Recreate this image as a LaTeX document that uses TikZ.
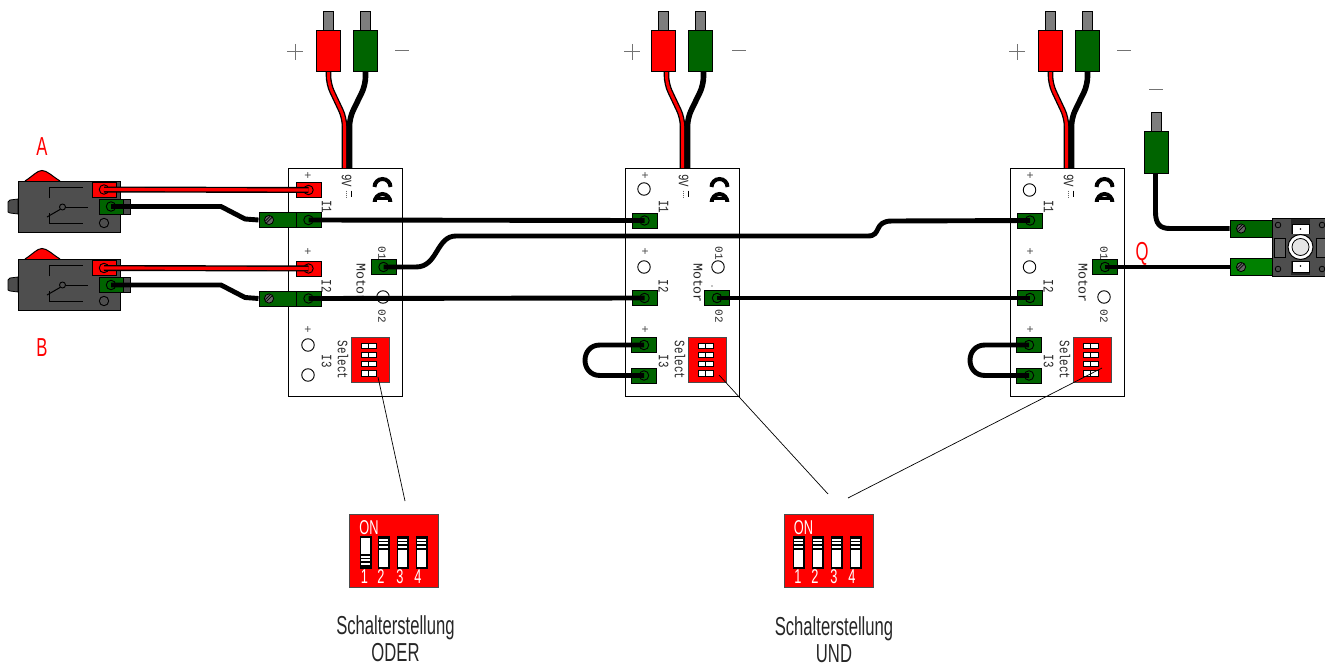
\documentclass[tikz,border=0pt]{standalone}
\usepackage{fontspec}
\setmainfont{Liberation Sans}
\newfontfamily\lblfont[FakeStretch=0.64]{Liberation Sans}
\newfontfamily\brdfont[FakeStretch=0.75]{Liberation Mono}
\newfontfamily\brdwide{Liberation Mono}
\definecolor{cGreen}{RGB}{0,100,0}
\definecolor{cGreenB}{RGB}{0,128,0}
\definecolor{cRed}{RGB}{255,0,0}
\definecolor{cBody}{RGB}{78,78,78}
\definecolor{cPin}{RGB}{125,125,125}
\tikzset{
  outl/.style={draw=black,line width=1pt},
  term/.style={outl,rectangle,minimum width=25pt,minimum height=15pt,inner sep=0pt},
  ext/.style={outl,rectangle,minimum width=37pt,minimum height=15pt,inner sep=0pt,fill=cGreen},
  hole/.style={draw=black,line width=.9pt,fill=white,circle,minimum size=12.5pt,inner sep=0pt},
  tring/.style={draw=black,line width=.9pt,circle,minimum size=9.5pt,inner sep=0pt},
  blackwire/.style={draw=black,line width=4.9pt,line join=round},
  redouter/.style={draw=black,line width=6pt,line join=round},
  redinner/.style={draw=cRed,line width=3.2pt,line join=round},
  leader/.style={draw=black,line width=.7pt},
  brd/.style={font=\brdfont\fontsize{14.4}{14.4}\selectfont,rotate=-90,inner sep=0pt,text=black!85},
  brdsmall/.style={font=\brdwide\fontsize{11}{11}\selectfont,rotate=-90,inner sep=0pt,text=black!85},
  plus/.style={font=\fontsize{12}{12}\selectfont,inner sep=0pt,text=black!70},
  lbl/.style={font=\lblfont\fontsize{26}{26}\selectfont,inner sep=0pt,text=black!85,anchor=base},
  redlbl/.style={font=\lblfont\fontsize{26}{26}\selectfont,inner sep=0pt,text=cRed,anchor=base},
  diptxt/.style={font=\lblfont\fontsize{20}{20}\selectfont,inner sep=0pt,text=white},
  sign/.style={draw=black!55,line width=1pt},
}
% terminal: name, x, y, colour
\newcommand{\Tm}[4]{\node[term,fill=#4] (#1) at (#2,#3) {}; \node[tring] at (#1.center) {};}
\newcommand{\Hl}[3]{\node[hole] (#1) at (#2,#3) {};}
\newcommand{\Screw}[2]{\fill[black!60,draw=black,line width=.8pt] (#1,#2) circle (4.6);
  \draw[black,line width=.8pt] (#1-3.6,#2+1) -- (#1+1,#2-3.6) (#1-2.6,#2+3) -- (#1+3,#2-2.6);}
% plug: x centre, top of pin, colour
\newcommand{\Plug}[3]{
  \fill[cPin,draw=black,line width=.8pt] (#1-4.7,#2) rectangle (#1+4.7,#2+20);
  \fill[#3,draw=black,line width=1pt] (#1-12,#2+20) rectangle (#1+12,#2+61);}
% board: name, x offset
\newcommand{\Board}[2]{
 \begin{scope}[shift={(#2,0)}]
  \node[outl,fill=white,rectangle,minimum width=114pt,minimum height=228pt,inner sep=0pt,anchor=north west] (#1) at (288,168) {};
  \node[brd] at (346.5,181) {9V};
  \draw[black,line width=.9pt] (351,190.5) -- (351,197);
  \draw[black!60,line width=.9pt,dash pattern=on 1pt off 1pt] (346.5,190.5) -- (346.5,197);
  \draw[black,line width=4pt] (374.5,187) arc (180:360:8 and 8);
  \begin{scope}
    \clip (370,190) rectangle (394,201.5);
    \draw[black,line width=4pt] (374.5,203) arc (180:360:8 and 9);
    \draw[black,line width=2.6pt] (376,198.5) -- (390,198.5);
  \end{scope}
  \node[plus] at (308,176) {+};
  \node[plus] at (308,252) {+};
  \node[plus] at (308,330.5) {+};
  \node[brd] at (326.5,207) {I1};
  \node[brd] at (326.5,286) {I2};
  \node[brd] at (326.5,361) {I3};
  \node[brd,font=\brdwide\fontsize{13.3}{13.3}\selectfont] at (361,283) {Motor};
  \node[brdsmall] at (382,253) {01};
  \node[brdsmall] at (382,316) {02};
  \node[brd] at (343,360) {Select};
  \fill[cRed,draw=black!70,line width=.9pt] (351,337) rectangle (389,382);
  \foreach \ry in {343,352,361.3,370.5}{
    \fill[white,draw=black,line width=1pt] (361,\ry) rectangle (376.5,\ry+5.5);
    \draw[black,line width=1.2pt] (368.5,\ry) -- (368.5,\ry+5.5);
  }
 \end{scope}}
% switch: name, y offset
\newcommand{\Switch}[2]{
 \begin{scope}[shift={(0,#2)}]
  \fill[cRed] (25,181) .. controls (33,176) and (37,170.5) .. (42,170.5) .. controls (47,170.5) and (52,176) .. (60,181) -- cycle;
  \draw[black,line width=1pt] (25,181) .. controls (33,176) and (37,170.5) .. (42,170.5) .. controls (47,170.5) and (52,176) .. (60,181);
  \fill[black!70,draw=black,line width=.8pt] (18,199) -- (10,200) -- (8,202) -- (8,212) -- (10,213) -- (18,214) -- cycle;
  \fill[black!70,draw=black,line width=.8pt] (120,199) rectangle (130,214);
  \node[outl,fill=cBody,rectangle,minimum width=102pt,minimum height=51pt,inner sep=0pt,anchor=north west] (#1) at (18,181) {};
  \draw[black,line width=1pt] (49,198) -- (49,187.5) -- (83,187.5);
  \draw[black,line width=1pt] (66,207) -- (88,207);
  \draw[black,line width=1pt] (60,209.5) -- (47,217);
  \draw[black,line width=1pt] (49,213) -- (49,223) -- (83,223);
  \draw[black,line width=.9pt] (62.5,207) circle (3);
  \draw[black,line width=.9pt] (104,223) circle (4.7);
 \end{scope}}
% big dip slider: x, y of stripes
\newcommand{\Slider}[2]{
  \fill[white,draw=black,line width=1.4pt] (#1,537) rectangle (#1+10.5,568);
  \foreach \sy in {0,3.6,7.2,10.8}{\draw[black,line width=1.7pt] (#1,#2+\sy) -- (#1+10.5,#2+\sy);}
}
\begin{document}
\begin{tikzpicture}[x=1pt,y=-1pt]
\useasboundingbox (0,0) rectangle (1325,666);

% boards
\Board{ba}{0}
\Board{bb}{337}
\Board{bc}{722}

% signs at the plugs
\foreach \ox in {0,337,722}{
  \begin{scope}[shift={(\ox,0)}]
    \draw[sign] (287,52) -- (303,52) (295,44) -- (295,60);
    \draw[sign] (395,51) -- (409,51);
  \end{scope}
}
\foreach \ox in {0,338,722}{
  \begin{scope}[shift={(\ox,0)}]
    \draw[blackwire,line width=5.6pt,rounded corners=8pt] (365.5,72) -- (365.5,85) -- (349.5,118) -- (349.5,168);
    \draw[redouter,line width=5.6pt,rounded corners=8pt] (328.5,72) -- (328.5,84) -- (344.5,118) -- (344.5,168);
    \draw[redinner,line width=3pt,rounded corners=8pt] (328.5,72) -- (328.5,84) -- (344.5,118) -- (344.5,168);
  \end{scope}
}
\foreach \ox in {0,335,722}{
  \Plug{328.4+\ox}{11}{cRed}
  \Plug{365.4+\ox}{11}{cGreen}
}

% switches
\Switch{swa}{0}
\Switch{swb}{78}
\node[term,fill=cRed,minimum width=24pt] (sa1) at (104,189.5) {}; \node[tring] at (sa1.center) {};
\node[term,fill=cGreen,minimum width=24pt] (sa2) at (111,206.5) {}; \node[tring] at (sa2.center) {};
\node[term,fill=cRed,minimum width=24pt] (sb1) at (104,268) {}; \node[tring] at (sb1.center) {};
\node[term,fill=cGreen,minimum width=24pt] (sb2) at (111,285) {}; \node[tring] at (sb2.center) {};

% terminals board A
\Tm{aP1}{308.5}{190}{cRed}
\Tm{aP2}{308.5}{268.5}{cRed}
\node[ext] (aX1) at (277.5,220) {}; \Screw{269}{220}
\node[ext] (aX2) at (277.5,298.5) {}; \Screw{269}{298.5}
\Tm{aI1}{308.5}{220}{cGreen}
\Tm{aI2}{308.5}{298.5}{cGreen}
\Tm{aO1}{383.5}{267}{cGreen}
\Hl{aH3}{308}{345}
\Hl{aH4}{308}{375}
\Hl{aH5}{383}{297}

% terminals board B
\Hl{bH1}{644}{189}
\Hl{bH2}{644}{267}
\Hl{bH5}{718}{267}
\Tm{bI1}{644.5}{220.5}{cGreen}
\Tm{bI2}{644.5}{298}{cGreen}
\Tm{bI3}{644}{345}{cGreen}
\Tm{bI4}{644}{375.5}{cGreen}
\Tm{bO2}{717}{298}{cGreen}
\fill[black] (712,286) circle (.7);

% terminals board C
\Hl{cH1}{1029.5}{190}
\Hl{cH2}{1029.5}{267}
\Hl{cH5}{1104}{297}
\Tm{cI1}{1030}{220.5}{cGreen}
\Tm{cI2}{1030}{298}{cGreen}
\Tm{cI3}{1029}{345}{cGreen}
\Tm{cI4}{1029}{375.5}{cGreen}
\Tm{cO1}{1105}{267}{cGreen}

% single plug
\Plug{1156.5}{112}{cGreen}
\coordinate (pg) at (1155.5,173);
\draw[sign] (1149,90) -- (1163,90);

% motor
\begin{scope}
\clip (1200,200) rectangle (1325,290);
\node[outl,fill=cBody,rectangle,minimum width=70pt,minimum height=58pt,inner sep=0pt,anchor=north west] (mot) at (1272,218) {};
\fill[black!85] (1291,219) rectangle (1310,275);
\fill[white,draw=black,line width=.7pt] (1292,224) rectangle (1309,234);
\fill[white,draw=black,line width=.7pt] (1292,261) rectangle (1309,272);
\fill[black] (1300.5,229) circle (.9) (1300.5,266) circle (.9);
\fill[cBody] (1285,234) rectangle (1316,261);
\draw[black,line width=.8pt,fill=black!62] (1274,238) rectangle (1285,257);
\draw[black,line width=.8pt,fill=black!62] (1316,238) rectangle (1327,257);
\foreach \mx/\my in {1278/225,1322/225,1278/269,1322/269}{
  \draw[black,line width=.8pt] (\mx,\my) circle (2.8);
}
\fill[white,draw=black,line width=1pt] (1300.5,247) circle (12.5);
\fill[black!10,draw=black,line width=.8pt] (1300.5,247) circle (8.5);
\end{scope}
\node[ext,minimum width=42pt,minimum height=17pt] (mT1) at (1251,228.5) {};
\node[ext,fill=cGreenB,minimum width=42pt,minimum height=17pt] (mT2) at (1251,267) {};
\Screw{1241}{228.5}
\Screw{1241}{267}

% wires
\draw[redouter] (sa1.center) -- (aP1.center);
\draw[redinner] (sa1.center) -- (aP1.center);
\draw[redouter] (sb1.center) -- (aP2.center);
\draw[redinner] (sb1.center) -- (aP2.center);
\draw[blackwire] (sa2.center) -- (221,206.5) -- (245,219) -- (aX1.west);
\draw[blackwire] (sb2.center) -- (221,285) -- (245,297.5) -- (aX2.west);
\draw[blackwire] (aI1.center) -- (bI1.center);
\draw[blackwire] (aI2.center) -- (bI2.center);
\draw[blackwire] (aO1.center) -- (416,267) .. controls (438,267) and (436,236) .. (456,236) -- (868,236) .. controls (882,236) and (873,221) .. (892,221) -- (cI1.center);
\draw[blackwire] (bO2.center) -- (cI2.center);
\draw[blackwire] (bI3.center) -- (600,345) .. controls (580,345) and (580,375.5) .. (600,375.5) -- (bI4.center);
\draw[blackwire] (cI3.center) -- (985,345) .. controls (965,345) and (965,375.5) .. (985,375.5) -- (cI4.center);
\draw[blackwire] (cO1.center) -- (mT2.west);
\draw[blackwire] (pg) -- (1155.5,212) .. controls (1155.5,224) and (1160,228.5) .. (1170,228.5) -- (mT1.west);

% big dips
\node[draw=black!70,line width=.8pt,fill=cRed,rectangle,minimum width=89pt,minimum height=73pt,inner sep=0pt,anchor=north west] (dipA) at (349,514) {};
\node[diptxt] at (369,528) {ON};
\Slider{360.5}{555}
\Slider{378.5}{538}
\Slider{397.5}{538}
\Slider{416.5}{538}
\node[diptxt] at (364.5,577) {1};
\node[diptxt] at (381,577) {2};
\node[diptxt] at (400,577) {3};
\node[diptxt] at (418,577) {4};

\node[draw=black!70,line width=.8pt,fill=cRed,rectangle,minimum width=89pt,minimum height=73pt,inner sep=0pt,anchor=north west] (dipB) at (784,514) {};
\node[diptxt] at (803.5,528) {ON};
\Slider{793.5}{538}
\Slider{812.5}{538}
\Slider{831.5}{538}
\Slider{850.5}{538}
\node[diptxt] at (798,577) {1};
\node[diptxt] at (815,577) {2};
\node[diptxt] at (834,577) {3};
\node[diptxt] at (852,577) {4};

% leaders
\coordinate (la1) at (378,377); \coordinate (la2) at (405,501);
\coordinate (lb1) at (719,375); \coordinate (lb2) at (828,494);
\coordinate (lc1) at (1102,368); \coordinate (lc2) at (848,498);
\draw[leader] (la1) -- (la2);
\draw[leader] (lb1) -- (lb2);
\draw[leader] (lc1) -- (lc2);

% labels
\node[lbl] (t1) at (395.5,634) {Schalterstellung};
\node[lbl] (t2) at (395.5,661.5) {ODER};
\node[lbl] (t3) at (834,635) {Schalterstellung};
\node[lbl] (t4) at (834,662) {UND};
\node[redlbl] (la) at (42,155) {A};
\node[redlbl] (lb) at (42,356) {B};
\node[redlbl] (lq) at (1142,260) {Q};
\end{tikzpicture}
\end{document}
